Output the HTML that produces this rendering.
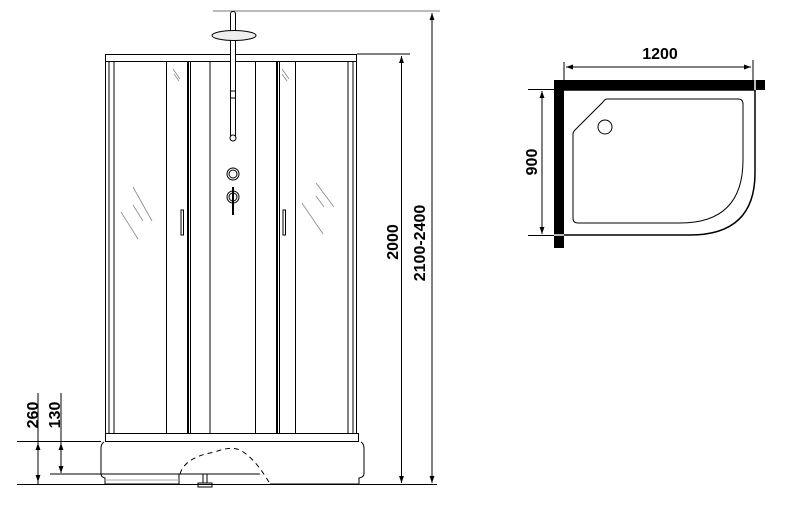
<!DOCTYPE html>
<html><head><meta charset="utf-8"><style>
html,body{margin:0;padding:0;background:#fff;}
svg{display:block}
text{font-family:"Liberation Sans",sans-serif;font-weight:bold;font-size:16px;fill:#000}
</style></head><body>
<svg width="800" height="511" viewBox="0 0 800 511" xmlns="http://www.w3.org/2000/svg">
<defs>
<marker id="a" viewBox="0 0 10 10" refX="10" refY="5" markerWidth="7" markerHeight="7" orient="auto-start-reverse"><path d="M0,1.5 L10,5 L0,8.5 Z" fill="#000"/></marker>
</defs>
<g fill="none" stroke="#000" stroke-width="1">
<!-- top extension lines -->
<line x1="213" y1="11" x2="440" y2="11" stroke="#777"/>
<line x1="357" y1="54" x2="410" y2="54"/>
<!-- cabin top -->
<rect x="105.5" y="54.5" width="251" height="7"/>
<!-- verticals -->
<g>
<line x1="105.5" y1="61" x2="105.5" y2="433"/>
<line x1="109" y1="61" x2="109" y2="433"/>
<line x1="114" y1="61" x2="114" y2="433"/>
<line x1="166.5" y1="61" x2="166.5" y2="433"/>
<line x1="188" y1="61" x2="188" y2="433" stroke-width="2"/>
<line x1="190.5" y1="61" x2="190.5" y2="433"/>
<line x1="210" y1="61" x2="210" y2="433"/>
<line x1="255.5" y1="61" x2="255.5" y2="433"/>
<line x1="277" y1="61" x2="277" y2="433" stroke-width="2"/>
<line x1="279.5" y1="61" x2="279.5" y2="433"/>
<line x1="295.5" y1="61" x2="295.5" y2="433"/>
<line x1="348" y1="61" x2="348" y2="433"/>
<line x1="353" y1="61" x2="353" y2="433"/>
<line x1="356.5" y1="61" x2="356.5" y2="433"/>
</g>
<!-- handles -->
<rect x="181" y="210" width="2.5" height="25"/>
<rect x="283" y="210" width="2.5" height="25"/>
<!-- reflections -->
<g stroke="#888" stroke-width="0.8">
<line x1="173" y1="69" x2="180" y2="79"/><line x1="174" y1="74" x2="179" y2="81"/>
<line x1="133" y1="187" x2="152" y2="221"/><line x1="133" y1="205" x2="143" y2="221"/><line x1="121" y1="212" x2="138" y2="239"/>
<line x1="282" y1="69" x2="289" y2="79"/><line x1="282" y1="74" x2="287" y2="81"/>
<line x1="316" y1="183" x2="334" y2="207"/><line x1="316" y1="196" x2="324" y2="207"/><line x1="302" y1="203" x2="323" y2="234"/>
</g>
<!-- shower pole -->
<rect x="230.5" y="11.5" width="5" height="128" rx="2.5" fill="#fff"/>
<rect x="230.5" y="91" width="5" height="7" fill="#fff"/>
<circle cx="233" cy="138" r="3" fill="#fff"/>
<ellipse cx="234" cy="35.5" rx="22" ry="5" fill="#eee"/>
<circle cx="233" cy="174" r="6"/><circle cx="233" cy="174" r="4"/>
<circle cx="233" cy="197" r="6"/><circle cx="233" cy="197" r="4"/>
<line x1="233" y1="187" x2="233" y2="215" stroke-width="2"/>
<!-- bottom bar -->
<rect x="105.5" y="433.5" width="253" height="8"/>
<!-- tray -->
<path d="M104 442 Q101 444 101 448 L101 474 Q101 477 105 478 L105 484 L179 484 L179 474 M270 484 L359 484 L359 478 Q364 477 364 474 L364 448 Q364 444 361 442"/>
<path d="M180 474 Q185 457 215 452 Q230 446 240 450 Q255 458 270 484" stroke-dasharray="5,4"/>
<line x1="50" y1="474" x2="260" y2="474"/>
<line x1="105" y1="480" x2="179" y2="480" stroke="#aaa"/>
<rect x="203" y="474" width="4" height="9"/>
<rect x="198" y="483" width="14" height="4"/>
<!-- floor/ext lines -->
<line x1="17" y1="484.5" x2="437" y2="484.5"/>
<line x1="17" y1="441.5" x2="101" y2="441.5"/>
<!-- dimension lines -->
<line x1="38" y1="393" x2="38" y2="484"/>
<line x1="38" y1="443" x2="38" y2="482" marker-start="url(#a)" marker-end="url(#a)"/>
<line x1="61" y1="393" x2="61" y2="443"/>
<line x1="61" y1="443" x2="61" y2="473" marker-start="url(#a)" marker-end="url(#a)"/>
<line x1="401.5" y1="56" x2="401.5" y2="483" marker-start="url(#a)" marker-end="url(#a)"/>
<line x1="432" y1="13" x2="432" y2="483" marker-start="url(#a)" marker-end="url(#a)"/>
<!-- plan view -->
<path d="M564 90 L755 90 L755 173 Q755 235 690 235 L564 235" stroke-width="1.5"/>
<path d="M607 99 L738 99 Q743 99 743 104 L743 160 Q743 223 680 223 L578 223 Q573 223 573 218 L573 134 Q573 132 575 130 L603 102 Q605 99 607 99 Z"/>
<circle cx="605" cy="127" r="7"/>
<line x1="564" y1="62" x2="564" y2="80"/>
<line x1="753" y1="60" x2="753" y2="80"/>
<line x1="566" y1="67" x2="751" y2="67" marker-start="url(#a)" marker-end="url(#a)"/>
<line x1="528" y1="89.5" x2="556" y2="89.5"/>
<line x1="528" y1="235.5" x2="556" y2="235.5"/>
<line x1="542" y1="91" x2="542" y2="234" marker-start="url(#a)" marker-end="url(#a)"/>
</g>
<rect x="554" y="80" width="211" height="10" fill="#000"/>
<rect x="554" y="80" width="10" height="168" fill="#000"/>
<rect x="754" y="80" width="2" height="10" fill="#bbb"/>
<rect x="554" y="234" width="10" height="2" fill="#bbb"/>
<text x="660" y="59" text-anchor="middle">1200</text>
<text transform="translate(537,162) rotate(-90)" text-anchor="middle">900</text>
<text transform="translate(398,242) rotate(-90)" text-anchor="middle">2000</text>
<text transform="translate(425,243) rotate(-90)" text-anchor="middle">2100-2400</text>
<text transform="translate(38,415) rotate(-90)" text-anchor="middle">260</text>
<text transform="translate(60,415) rotate(-90)" text-anchor="middle">130</text>
</svg>
</body></html>
